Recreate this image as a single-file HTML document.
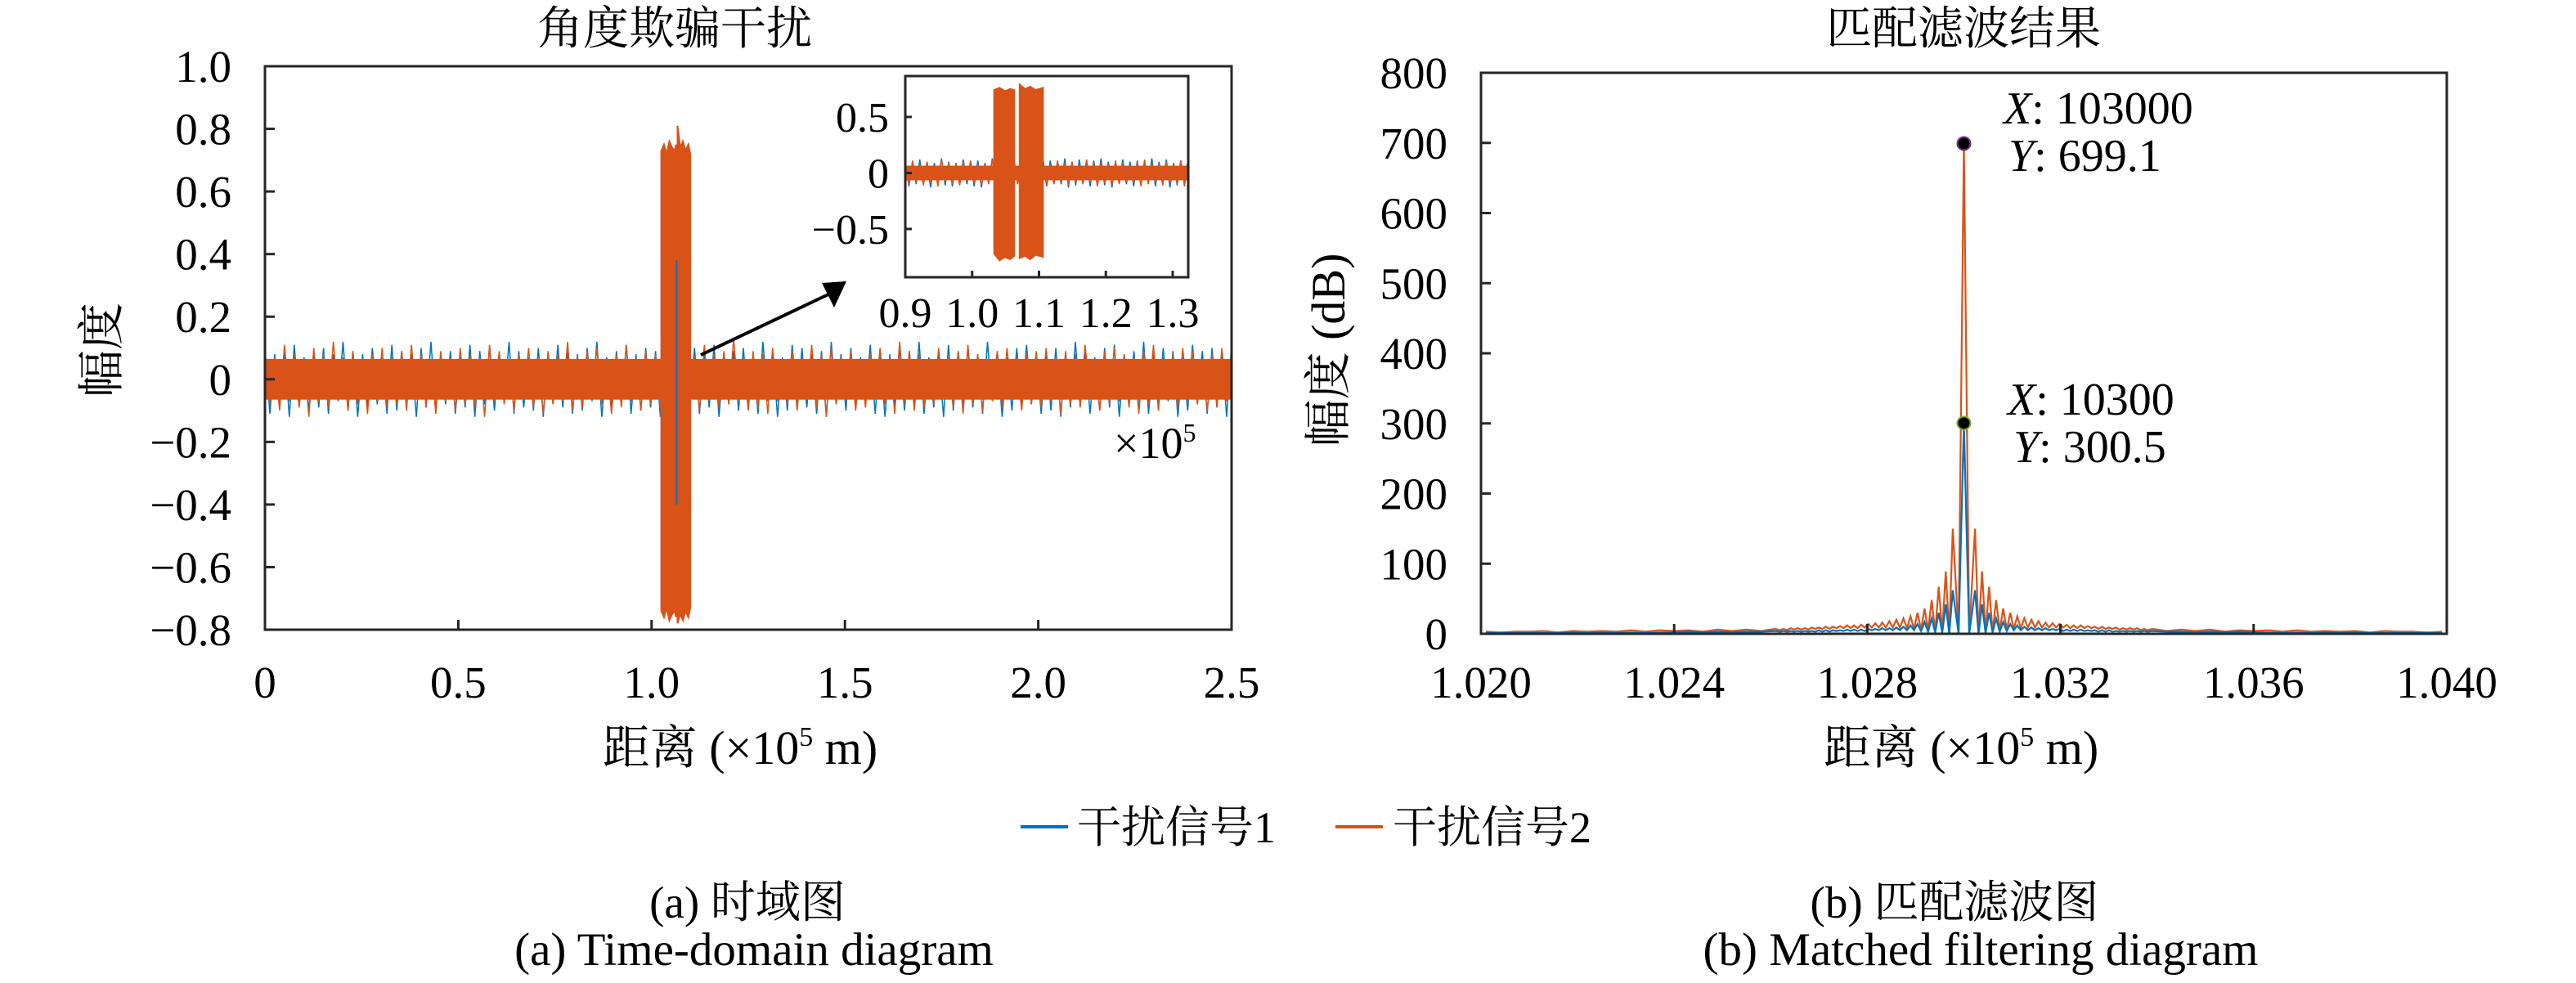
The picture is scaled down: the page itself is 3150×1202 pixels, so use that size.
<!DOCTYPE html>
<html><head><meta charset="utf-8"><style>
html,body{margin:0;padding:0;background:#fff}
svg{display:block}
text{font-family:"Liberation Serif","Noto Serif CJK SC",serif;fill:#000}
.cjk{font-family:"Liberation Serif","Noto Serif CJK SC","Noto Sans CJK SC",serif}
</style></head><body>
<svg id="fig" width="3150" height="1202" viewBox="0 0 3150 1202" xmlns="http://www.w3.org/2000/svg">
<rect width="3150" height="1202" fill="#fff"/>
<g id="left"></g>
<g id="inset"></g>
<g id="right"></g>

<text x="825" y="54" font-size="56" text-anchor="middle" class="cjk">角度欺骗干扰</text>
<text x="2401" y="54" font-size="56" text-anchor="middle" class="cjk">匹配滤波结果</text>
<text transform="translate(144,428) rotate(-90)" font-size="58" text-anchor="middle" class="cjk">幅度</text>
<text transform="translate(1644,428) rotate(-90)" font-size="58" text-anchor="middle" class="cjk">幅度 (dB)</text>
<text x="905" y="934" font-size="58" text-anchor="middle" class="cjk">距离 (×10<tspan font-size="34" dy="-22">5</tspan><tspan dy="22"> m)</tspan></text>
<text x="2398" y="934" font-size="58" text-anchor="middle" class="cjk">距离 (×10<tspan font-size="34" dy="-22">5</tspan><tspan dy="22"> m)</tspan></text>
<text x="1362" y="560" font-size="54">×10<tspan font-size="32" dy="-20">5</tspan></text>

<g>
<line x1="1248" y1="1011" x2="1306" y2="1011" stroke="#0072BD" stroke-width="4"/>
<text x="1317" y="1030" font-size="54" class="cjk">干扰信号1</text>
<line x1="1633" y1="1011" x2="1691" y2="1011" stroke="#D95319" stroke-width="4"/>
<text x="1703" y="1030" font-size="54" class="cjk">干扰信号2</text>
</g>

<text x="914" y="1122" font-size="55" text-anchor="middle" class="cjk">(a) 时域图</text>
<text x="922" y="1180" font-size="57" text-anchor="middle">(a) Time-domain diagram</text>
<text x="2390" y="1122" font-size="55" text-anchor="middle" class="cjk">(b) 匹配滤波图</text>
<text x="2422" y="1180" font-size="57" text-anchor="middle">(b) Matched filtering diagram</text>
</svg>
<script>
// ---------- data: left time-domain (units of amplitude x100) ----------
const leftYTicks=[1.0,0.8,0.6,0.4,0.2,0,-0.2,-0.4,-0.6,-0.8];
const leftYTickLabels=["1.0","0.8","0.6","0.4","0.2","0","−0.2","−0.4","−0.6","−0.8"];
const leftXTicks=[0,0.5,1.0,1.5,2.0,2.5];
const leftXTickLabels=["0","0.5","1.0","1.5","2.0","2.5"];
const noiseCore=[6.5];
const orangeUp=[9,7,11,8,6,10,8,12,7,9,6,8,10,7,9,11,8,6,9,7,10,8,7,11,9,6,8,10,7,9,8,12,7,9,10,6,8,11,7,9,8,10,6,9,7,11,8,9,13,7,9,8,10,6,9,7,11,8,10,7,9,6,8,10,7,12,9,8,6,10,7,9,11,8,6,9,10,7,8,9,10,7,9,8,11,6,9,10,8,7,9,11,7,8,10,9,6,8,10,9];
const orangeDn=[8,10,7,9,12,7,9,6,10,8,11,7,9,8,10,6,9,11,7,10,8,9,12,7,8,10,6,9,11,8,7,10,9,6,8,11,9,7,10,8,9,6,11,8,10,7,9,8,6,10,9,11,7,8,10,6,9,12,8,7,10,9,6,8,11,7,10,9,8,6,9,11,8,10,7,9,6,10,8,9,7,11,8,9,6,10,8,7,9,11,8,10,6,9,7,8,10,9,7,8];
const blueUp=[10,8,9,11,7,9,10,8,12,9,8,10,7,11,9,8,10,12,8,9,7,11,9,10,8,12,9,7,10,8,11,9,8,10,12,7,9,11,8,10,9,7,12,8,10,9,11,7,9,10,8,12,9,7,11,10,8,9,12,8,10,7,11,9,8,10,9,12,7,8,11,9,10,8,12,9,7,10,11,8,9,10,8,12,9,7,10,11,8,9,12,8,10,9,7,11,9,10,8,11];
const blueDn=[11,9,12,8,10,9,11,7,10,12,9,8,11,10,7,12,9,10,8,11,9,12,8,10,7,11,9,10,12,8,9,11,10,7,12,9,8,11,10,9,12,8,10,7,11,9,12,8,10,9,11,7,12,10,8,9,11,12,8,10,9,7,11,12,9,10,8,11,9,12,10,8,9,11,7,12,10,9,8,11,10,12,9,8,11,10,9,12,8,10,11,9,7,12,10,8,11,9,12,10];
const burstX=[1.025,1.032,1.039,1.046,1.053,1.060,1.063];
const burstX2=[1.067,1.074,1.081,1.088,1.095,1.100];
const burstUp=[73,75,72,76,74,73,75];
const burstDn=[-74,-76,-73,-77,-75,-74,-76];
const burstUp2=[81,74,76,73,75,72];
const burstDn2=[-78,-75,-77,-74,-76,-73];
const gapBlue=[38,-40];
// inset
const insetYTicks=[0.5,0,-0.5];
const insetYTickLabels=["0.5","0","−0.5"];
const insetXTicks=[0.9,1.0,1.1,1.2,1.3];
const insetXTickLabels=["0.9","1.0","1.1","1.2","1.3"];
const insetOrangeUp=[9,11,8,10,7,12,9,8,10,11,8,9,12,7,10,9,11,8,10,9,7,11,9,10,8,12,9,10,8,11,9,7,10,12,9,8,10,9,11,10];
const insetOrangeDn=[10,8,11,9,12,8,10,11,7,9,11,10,8,12,9,10,8,11,9,12,10,8,11,9,10,8,12,9,11,10,8,9,12,10,8,11,9,10,12,9];
const insetBlueUp=[11,9,12,10,9,13,10,9,12,10,11,9,13,10,9,12,10,11,9,12,11,9,13,10,12,9,11,13,10,9,12,10,11,9,13,10,12,9,11,12];
const insetBlueDn=[12,10,9,13,10,11,12,9,10,12,13,9,11,10,12,9,13,10,11,12,9,10,13,11,9,12,10,11,13,9,10,12,11,9,12,10,13,11,9,12];
const insetBurstX=[1.033,1.041,1.049,1.057,1.063];
const insetBurstX2=[1.071,1.079,1.087,1.095,1.106];
const insetBurstUp=[74,76,73,75,74];
const insetBurstDn=[-72,-78,-75,-77,-74];
const insetBurstUp2=[79,75,77,74,76];
const insetBurstDn2=[-76,-74,-77,-73,-75];

// ---------- data: right matched filter ----------
const rightYTicks=[0,100,200,300,400,500,600,700,800];
const rightYTickLabels=["0","100","200","300","400","500","600","700","800"];
const rightXTicks=[1.020,1.024,1.028,1.032,1.036,1.040];
const rightXTickLabels=["1.020","1.024","1.028","1.032","1.036","1.040"];
const peakX=[1.030];
const peakOrange=[699.1];
const peakBlue=[300.5];
const mainNull=[0.00011];
const firstLobe=[0.00023];
const lobeSpacing=[0.000146];
const lobeOrange=[150,89,67,48,36,30,25,22,20,18,16,15,14,13,12,12,11,10,10,9,9,8,8,8,7];
const troughOrange=[0,2,3,5,6,7,8,9,9,9,9,9,9,8,8,8,8,7,7,7,6,6,6,5,5];
const lobeBlue=[62,42,30,22,17,14,12,10,9,8,8,7,7,6,6,6,5,5,5,5,4,4,4,4,4];
const troughBlue=[0,1,2,3,4,5,5,5,5,5,5,5,4,4,4,4,4,3,3,3,3,3,3,3,3];
const tailOffset=[0.0039,0.0042,0.0045,0.0048,0.0051,0.0054,0.0057,0.006,0.0063,0.0066,0.0069,0.0072,0.0075,0.0078,0.0081,0.0084,0.0087,0.009,0.0093,0.0096,0.0099,0.0102];
const tailOrange=[7,4,6,4,6,3,5,4,5,3,5,3,4,3,4,2,4,3,3,2,3,2];
const tailBlue=[4,3,3,2,3,2,3,2,2,1,2,1,2,1,2,1,1,1,1,1,1,1];

// ---------- helpers ----------
const NS="http://www.w3.org/2000/svg";
function mk(tag,attrs,parent){const e=document.createElementNS(NS,tag);for(const k in attrs)e.setAttribute(k,attrs[k]);parent.appendChild(e);return e;}
const BLUE="#0072BD",ORANGE="#D95319",AX="#262626";
const L=document.getElementById('left'),I=document.getElementById('inset'),R=document.getElementById('right');
const xL=v=>324+v/2.5*1182, yL=v=>463.8-v*382.8;
const xI=v=>1107+(v-0.9)*817.5, yI=v=>211.5-v*137;
const xR=v=>1811+(v-1.02)/0.02*1181, yR=v=>775-v/800*686;

function noise(g,xf,yf,x0,x1,up,dn,color,name,w){
  const n=up.length;let pts=[];
  for(let i=0;i<n;i++){
    const xa=x0+(x1-x0)*i/(n-1), xb=x0+(x1-x0)*(i+0.5)/(n-1);
    pts.push(xf(xa).toFixed(1)+","+yf(up[i]/100).toFixed(1));
    if(i<n-1)pts.push(xf(xb).toFixed(1)+","+yf(-dn[i]/100).toFixed(1));
  }
  const p=mk('polyline',{points:pts.join(' '),fill:'none',stroke:color,'stroke-width':w},g);
  
  
}
function burst(g,xf,yf,xs,up,dn,name){
  let pts=[];
  xs.forEach((x,i)=>pts.push(xf(x).toFixed(1)+","+yf(up[i]/100).toFixed(1)));
  for(let i=xs.length-1;i>=0;i--)pts.push(xf(xs[i]).toFixed(1)+","+yf(dn[i]/100).toFixed(1));
  const p=mk('polygon',{points:pts.join(' '),fill:ORANGE,stroke:ORANGE,'stroke-width':2},g);
  
  
}

// ---------- left chart ----------
(function(){
  const core=noiseCore[0]/100;
  noise(L,xL,yL,0,2.5,blueUp,blueDn,BLUE,'signal-1-noise',1.5);
  const c=mk('rect',{x:xL(0),y:yL(core),width:xL(2.5)-xL(0),height:yL(-core)-yL(core),fill:ORANGE},L);
  
  
  noise(L,xL,yL,0,2.5,orangeUp,orangeDn,ORANGE,'signal-2-noise',1.5);
  burst(L,xL,yL,burstX,burstUp,burstDn,'signal-2-burst-a');
  burst(L,xL,yL,burstX2,burstUp2,burstDn2,'signal-2-burst-b');
  const gl=mk('line',{x1:xL(1.065),x2:xL(1.065),y1:yL(gapBlue[0]/100),y2:yL(gapBlue[1]/100),stroke:BLUE,'stroke-width':2},L);
  
  
  const box=mk('rect',{x:324,y:81,width:1182,height:689,fill:'none',stroke:AX,'stroke-width':3},L);
  
  
  leftYTicks.forEach((v,i)=>{
    const y=yL(v);
    const t=mk('line',{x1:324,x2:336,y1:y,y2:y,stroke:AX,'stroke-width':3},L);
    
    
    const tx=mk('text',{x:283,y:y+19,'font-size':55,'text-anchor':'end'},L);
    tx.textContent=leftYTickLabels[i];
    
    
  });
  leftXTicks.forEach((v,i)=>{
    const x=xL(v);
    const t=mk('line',{x1:x,x2:x,y1:770,y2:758,stroke:AX,'stroke-width':3},L);
    
    
    const tx=mk('text',{x:x,y:853,'font-size':55,'text-anchor':'middle'},L);
    tx.textContent=leftXTickLabels[i];
    
    
  });
  const ar=mk('line',{x1:857,y1:434,x2:1015,y2:359,stroke:'#000','stroke-width':4},L);
  
  
  const ah=mk('polygon',{points:'1035,344 1005,346 1020,376',fill:'#000'},L);
  
  
})();

// ---------- inset ----------
(function(){
  const bg=mk('rect',{x:1107,y:93,width:346,height:246,fill:'#fff'},I);
  
  
  const xe=1.323;
  noise(I,xI,yI,0.9,xe,insetBlueUp,insetBlueDn,BLUE,'inset-signal-1-noise',1.5);
  const core=noiseCore[0]/100;
  const c=mk('rect',{x:xI(0.9),y:yI(core),width:xI(xe)-xI(0.9),height:yI(-core)-yI(core),fill:ORANGE},I);
  
  
  noise(I,xI,yI,0.9,xe,insetOrangeUp,insetOrangeDn,ORANGE,'inset-signal-2-noise',1.5);
  burst(I,xI,yI,insetBurstX,insetBurstUp,insetBurstDn,'inset-burst-a');
  burst(I,xI,yI,insetBurstX2,insetBurstUp2,insetBurstDn2,'inset-burst-b');
  const box=mk('rect',{x:1107,y:93,width:346,height:246,fill:'none',stroke:AX,'stroke-width':3},I);
  
  
  insetYTicks.forEach((v,i)=>{
    const y=yI(v);
    const t=mk('line',{x1:1107,x2:1115,y1:y,y2:y,stroke:AX,'stroke-width':3},I);
    
    
    const tx=mk('text',{x:1087,y:y+18,'font-size':52,'text-anchor':'end'},I);
    tx.textContent=insetYTickLabels[i];
    
    
  });
  insetXTicks.forEach((v,i)=>{
    const x=xI(v);
    const t=mk('line',{x1:x,x2:x,y1:339,y2:331,stroke:AX,'stroke-width':3},I);
    
    
    const tx=mk('text',{x:x,y:400,'font-size':52,'text-anchor':'middle'},I);
    tx.textContent=insetXTickLabels[i];
    
    
  });
})();

// ---------- right chart ----------
(function(){
  function series(peak,lobes,troughs,tail){
    const c=peakX[0];let side=[];
    side.push([mainNull[0],0]);
    lobes.forEach((v,k)=>{
      const off=firstLobe[0]+k*lobeSpacing[0];
      side.push([off,v]);
      side.push([off+lobeSpacing[0]/2,troughs[k]]);
    });
    tail.forEach((v,k)=>side.push([tailOffset[k],v]));
    let pts=[];
    for(let i=side.length-1;i>=0;i--)pts.push([c-side[i][0],side[i][1]]);
    pts.push([c,peak]);
    side.forEach(s=>pts.push([c+s[0],s[1]]));
    pts=pts.filter(p=>p[0]>=1.02&&p[0]<=1.04);
    return pts.map(p=>xR(p[0]).toFixed(1)+","+yR(p[1]).toFixed(1)).join(' ');
  }
  const po=mk('polyline',{points:series(peakOrange[0],lobeOrange,troughOrange,tailOrange),fill:'none',stroke:ORANGE,'stroke-width':2.2},R);
  
  
  const pb=mk('polyline',{points:series(peakBlue[0],lobeBlue,troughBlue,tailBlue),fill:'none',stroke:BLUE,'stroke-width':2.2},R);
  
  
  const box=mk('rect',{x:1811,y:89,width:1181,height:686,fill:'none',stroke:AX,'stroke-width':3},R);
  
  
  rightYTicks.forEach((v,i)=>{
    const y=yR(v);
    const t=mk('line',{x1:1811,x2:1823,y1:y,y2:y,stroke:AX,'stroke-width':3},R);
    
    
    const tx=mk('text',{x:1770,y:y+19,'font-size':55,'text-anchor':'end'},R);
    tx.textContent=rightYTickLabels[i];
    
    
  });
  rightXTicks.forEach((v,i)=>{
    const x=xR(v);
    const t=mk('line',{x1:x,x2:x,y1:775,y2:763,stroke:AX,'stroke-width':3},R);
    
    
    const tx=mk('text',{x:x,y:853,'font-size':55,'text-anchor':'middle'},R);
    tx.textContent=rightXTickLabels[i];
    
    
  });
  const m1=mk('circle',{cx:xR(peakX[0]),cy:yR(peakOrange[0]),r:8,fill:'#000',stroke:'#7E2F8E','stroke-width':2},R);
  
  
  const m2=mk('circle',{cx:xR(peakX[0]),cy:yR(peakBlue[0]),r:8,fill:'#000',stroke:'#77AC30','stroke-width':2},R);
  
  
  const labels=[["X","103000",2450,151],["Y","699.1",2456,209],["X","10300",2455,507],["Y","300.5",2462,565]];
  labels.forEach(l=>{
    const t=mk('text',{x:l[2],y:l[3],'font-size':56},R);
    t.innerHTML='<tspan font-style="italic">'+l[0]+'</tspan>: '+l[1];
    
    
  });
})();
</script>
</body></html>
